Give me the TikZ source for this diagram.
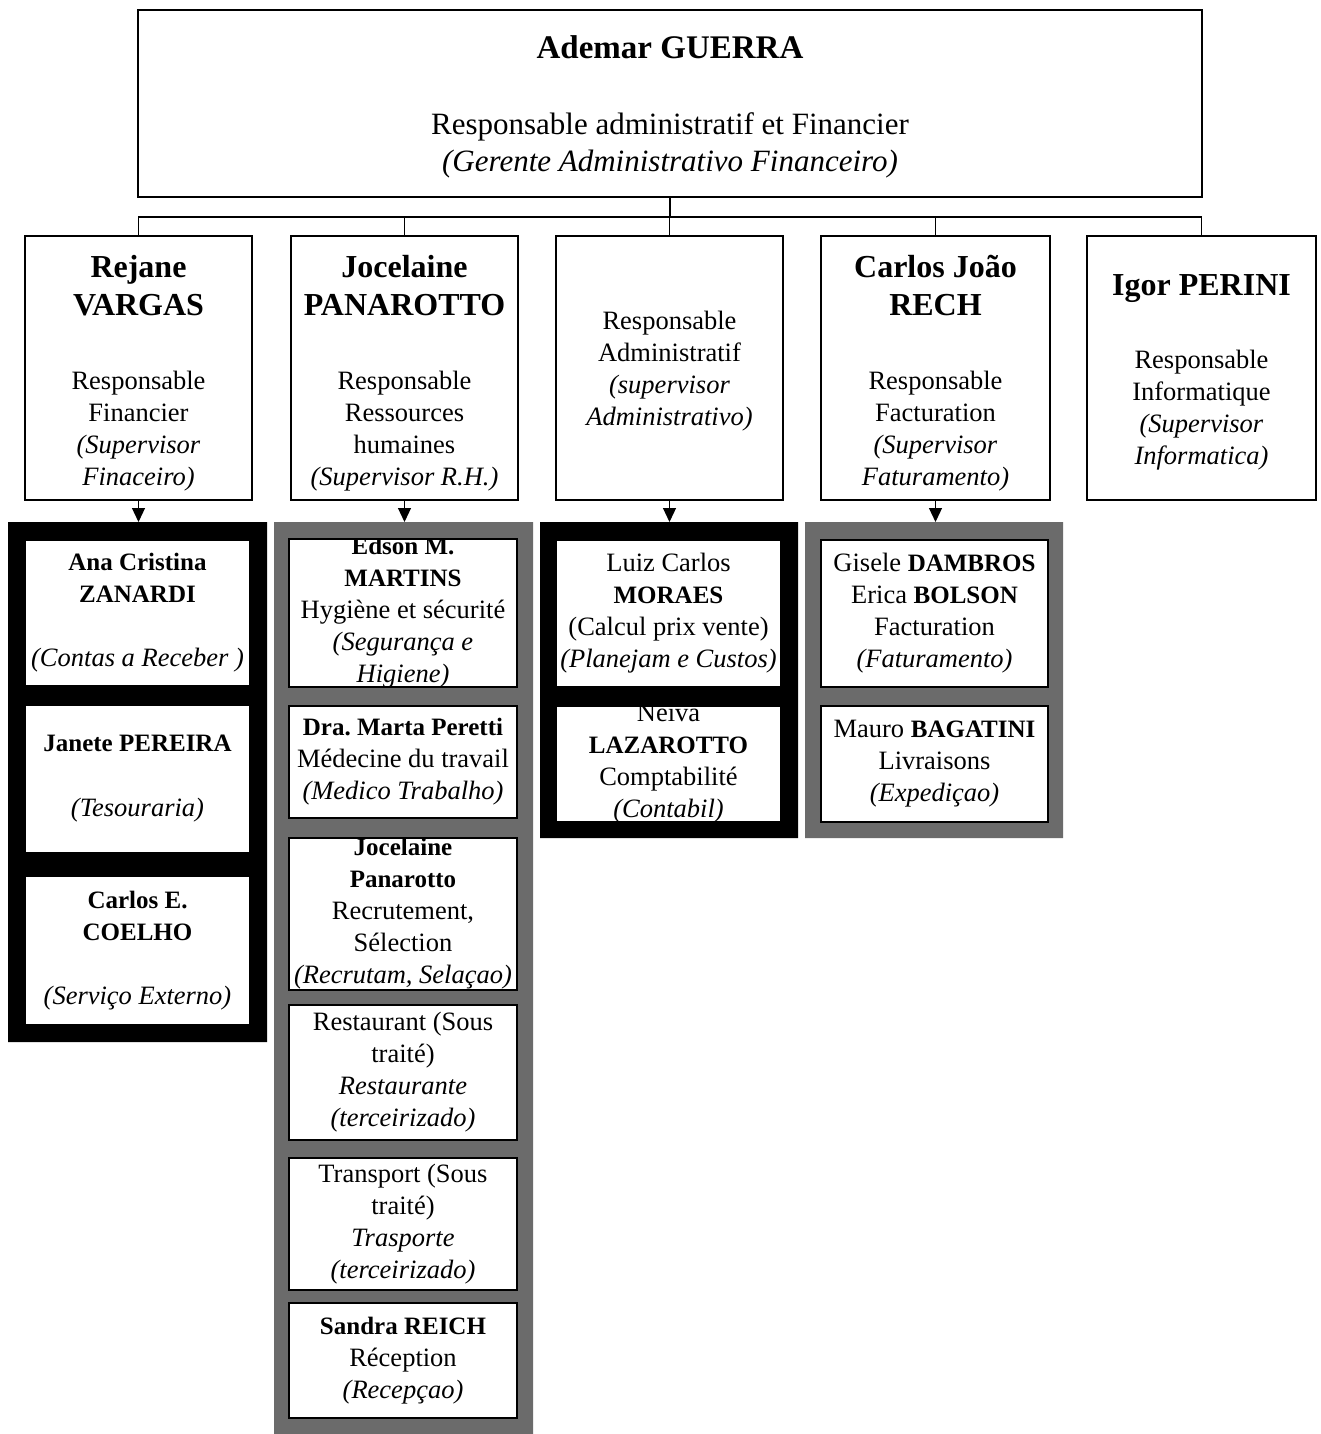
\documentclass[tikz,border=0pt]{standalone}
\usepackage{fontspec}
\setmainfont{Liberation Serif}
\usetikzlibrary{arrows.meta}
\frenchspacing
\newcommand\bn[1]{{\fontsize{25}{32}\selectfont\bfseries #1}}
\newcommand\nmf[1]{{\fontsize{32}{38}\selectfont\bfseries #1}}
\begin{document}
\begin{tikzpicture}[x=1pt,y=-1pt,
  topbox/.style={draw,fill=white,line width=1.8pt,minimum width=1064pt,minimum height=187pt,inner sep=0pt,outer sep=0pt},
  lvbox/.style={draw,fill=white,line width=1.5pt,minimum height=264pt,inner sep=0pt,outer sep=0pt},
  emptybox/.style={draw=none,inner sep=0pt,outer sep=0pt},
  ttxt/.style={align=center,inner sep=0pt,font=\fontsize{31}{37}\selectfont},
  ltxt/.style={align=center,inner sep=0pt,font=\fontsize{26.5}{32}\selectfont},
  stxt/.style={align=center,inner sep=0pt,font=\fontsize{26.5}{32}\selectfont},
  subline/.style={line width=1.5pt},
  arr/.style={line width=1.2pt,-{Triangle[width=13pt,length=14pt]}},
  conn/.style={line width=1.2pt}]
\useasboundingbox (0,0) rectangle (1320,1434);

% ---------- top and level-2 boxes ----------
\node[topbox] (T) at (670,103.5) {};
\node[lvbox,minimum width=227pt] (L1) at (138.5,368) {};
\node[lvbox,minimum width=227pt] (L2) at (404.5,368) {};
\node[lvbox,minimum width=227pt] (L3) at (669.5,368) {};
\node[lvbox,minimum width=229pt] (L4) at (935.5,368) {};
\node[lvbox,minimum width=229pt] (L5) at (1201.5,368) {};

% ---------- connectors ----------
\coordinate (bus) at (670,217);
\draw[conn] (T.south) -- (T.south |- bus);
\draw[conn] (L1.north) -- (L1.north |- bus) -- (L5.north |- bus) -- (L5.north);
\foreach \n in {L2,L3,L4} \draw[conn] (\n.north) -- (\n.north |- bus);

% ---------- texts top / level 2 ----------
\node[ttxt] (Tt) at (670,106.5) {{\fontsize{33}{37}\selectfont\bfseries Ademar GUERRA}\\[39pt]Responsable administratif et Financier\\\textit{(Gerente Administrativo Financeiro)}};
\node[ltxt] (L1t) at (138.5,373) {\nmf{Rejane}\\[6pt]\nmf{VARGAS}\\[42pt]Responsable\\Financier\\\textit{(Supervisor}\\\textit{Finaceiro)}};
\node[ltxt] (L2t) at (404.5,373) {\nmf{Jocelaine}\\[6pt]\nmf{PANAROTTO}\\[42pt]Responsable\\Ressources\\humaines\\\textit{(Supervisor R.H.)}};
\node[ltxt] (L3t) at (669.5,371.5) {Responsable\\Administratif\\\textit{(supervisor}\\\textit{Administrativo)}};
\node[ltxt] (L4t) at (935.5,373) {\nmf{Carlos João}\\[6pt]\nmf{RECH}\\[42pt]Responsable\\Facturation\\\textit{(Supervisor}\\\textit{Faturamento)}};
\node[ltxt] (L5t) at (1201.5,372.5) {\nmf{Igor PERINI}\\[41pt]Responsable\\Informatique\\\textit{(Supervisor}\\\textit{Informatica)}};

% ---------- group frames (named) ----------
\node[emptybox,minimum width=259pt,minimum height=520pt] (G1) at (137.5,782) {};
\node[emptybox,minimum width=259pt,minimum height=916pt] (G2) at (403.5,980) {};
\node[emptybox,minimum width=258pt,minimum height=316pt] (G3) at (669,680) {};
\node[emptybox,minimum width=258pt,minimum height=316pt] (G4) at (934,680) {};

% ---------- sub boxes (named) ----------
\node[emptybox,minimum width=225pt,minimum height=146pt] (g1a) at (137.5,613) {};
\node[emptybox,minimum width=225pt,minimum height=148pt] (g1b) at (137.5,779) {};
\node[emptybox,minimum width=225pt,minimum height=149pt] (g1c) at (137.5,950.5) {};

\node[emptybox,minimum width=228pt,minimum height=148pt] (g2a) at (403,613) {};
\node[emptybox,minimum width=228pt,minimum height=112pt] (g2b) at (403,762) {};
\node[emptybox,minimum width=228pt,minimum height=152pt] (g2c) at (403,914) {};
\node[emptybox,minimum width=228pt,minimum height=135pt] (g2d) at (403,1072.5) {};
\node[emptybox,minimum width=228pt,minimum height=132pt] (g2e) at (403,1224) {};
\node[emptybox,minimum width=228pt,minimum height=115pt] (g2f) at (403,1360.5) {};

\node[emptybox,minimum width=225pt,minimum height=147pt] (g3a) at (668.5,613.5) {};
\node[emptybox,minimum width=225pt,minimum height=116pt] (g3b) at (668.5,764) {};

\node[emptybox,minimum width=227pt,minimum height=147pt] (g4a) at (934.5,613.5) {};
\node[emptybox,minimum width=227pt,minimum height=116pt] (g4b) at (934.5,764) {};

% ---------- sub box texts ----------
\node[stxt] (g1at) at (g1a) {\bn{Ana Cristina}\\\bn{ZANARDI}\\[32pt]\textit{(Contas a Receber )}};
\node[stxt] (g1bt) at (g1b) {\bn{Janete PEREIRA}\\[33pt]\textit{(Tesouraria)}};
\node[stxt] (g1ct) at (g1c) {\bn{Carlos E.}\\\bn{COELHO}\\[32pt]\textit{(Serviço Externo)}};

\node[stxt] (g2at) at (g2a) {\bn{Edson M.}\\\bn{MARTINS}\\Hygiène et sécurité\\\textit{(Segurança e}\\\textit{Higiene)}};
\node[stxt] (g2bt) at (g2b) {\bn{Dra. Marta Peretti}\\Médecine du travail\\\textit{(Medico Trabalho)}};
\node[stxt] (g2ct) at (g2c) {\bn{Jocelaine}\\\bn{Panarotto}\\Recrutement,\\Sélection\\\textit{(Recrutam, Selaçao)}};
\node[stxt] (g2dt) at (g2d) {Restaurant (Sous\\traité)\\\textit{Restaurante}\\\textit{(terceirizado)}};
\node[stxt] (g2et) at (g2e) {Transport (Sous\\traité)\\\textit{Trasporte}\\\textit{(terceirizado)}};
\node[stxt] (g2ft) at (g2f) {\bn{Sandra REICH}\\Réception\\\textit{(Recepçao)}};

\node[stxt] (g3at) at (g3a) {Luiz Carlos\\\bn{MORAES}\\(Calcul prix vente)\\\textit{(Planejam e Custos)}};
\node[stxt] (g3bt) at (g3b) {Neiva\\\bn{LAZAROTTO}\\Comptabilité\\\textit{(Contabil)}};

\node[stxt] (g4at) at (g4a) {Gisele \bn{DAMBROS}\\Erica \bn{BOLSON}\\Facturation\\\textit{(Faturamento)}};
\node[stxt] (g4bt) at (g4b) {Mauro \bn{BAGATINI}\\Livraisons\\\textit{(Expediçao)}};

% ---------- frame fills (cover overflow) ----------
\fill[black,even odd rule] (G1.north west) rectangle (G1.south east)
  (g1a.north west) rectangle (g1a.south east)
  (g1b.north west) rectangle (g1b.south east)
  (g1c.north west) rectangle (g1c.south east);
\fill[black!58,even odd rule] (G2.north west) rectangle (G2.south east)
  (g2a.north west) rectangle (g2a.south east)
  (g2b.north west) rectangle (g2b.south east)
  (g2c.north west) rectangle (g2c.south east)
  (g2d.north west) rectangle (g2d.south east)
  (g2e.north west) rectangle (g2e.south east)
  (g2f.north west) rectangle (g2f.south east);
\fill[black,even odd rule] (G3.north west) rectangle (G3.south east)
  (g3a.north west) rectangle (g3a.south east)
  (g3b.north west) rectangle (g3b.south east);
\fill[black!58,even odd rule] (G4.north west) rectangle (G4.south east)
  (g4a.north west) rectangle (g4a.south east)
  (g4b.north west) rectangle (g4b.south east);

\foreach \b in {g1a,g1b,g1c,g2a,g2b,g2c,g2d,g2e,g2f,g3a,g3b,g4a,g4b}
  \draw[subline] (\b.north west) rectangle (\b.south east);

% ---------- arrows ----------
\draw[arr] (L1.south) -- (L1.south |- G1.north);
\draw[arr] (L2.south) -- (L2.south |- G2.north);
\draw[arr] (L3.south) -- (L3.south |- G3.north);
\draw[arr] (L4.south) -- (L4.south |- G4.north);
\end{tikzpicture}
\end{document}
